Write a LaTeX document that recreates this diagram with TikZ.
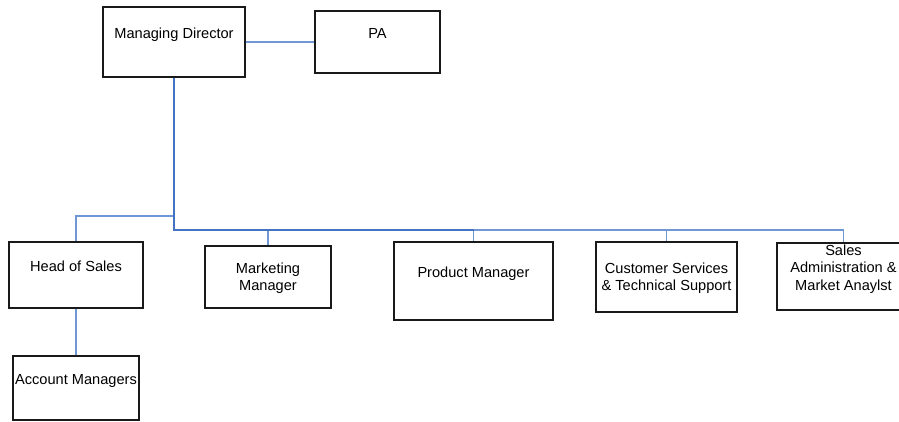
\documentclass[tikz,border=0pt]{standalone}
\usepackage{fontspec}
\setmainfont{Liberation Sans}
\definecolor{trunkblue}{HTML}{4472C4}
\definecolor{linkblue}{HTML}{6F97D6}
\begin{document}
\begin{tikzpicture}[x=1pt,y=-1pt,
  box/.style={draw=black!90,line width=1.3pt,fill=white,inner sep=0pt},
  lbl/.style={font=\fontsize{14.6}{17.5}\selectfont,align=center,inner sep=0pt,anchor=base},
  trunk/.style={draw=trunkblue,line width=2pt},
  link/.style={draw=linkblue,line width=1.4pt}]
\useasboundingbox (0,0) rectangle (899,421);
\clip (0,0) rectangle (899,421);
\fill[white] (0,0) rectangle (899,421);
% boxes
\node[box,minimum width=142pt,minimum height=70pt] (md) at (174,42) {};
\node[box,minimum width=125pt,minimum height=62pt] (pa) at (377.5,42) {};
\node[box,minimum width=134pt,minimum height=66pt] (hos) at (76,275) {};
\node[box,minimum width=126pt,minimum height=64pt] (am) at (76,388) {};
\node[box,minimum width=126pt,minimum height=62pt] (mm) at (268,277) {};
\node[box,minimum width=159pt,minimum height=78pt] (pm) at (473.5,281) {};
\node[box,minimum width=141pt,minimum height=70pt] (cs) at (666.5,277) {};
\node[box,minimum width=133pt,minimum height=67pt] (sa) at (843.5,276.5) {};
% connectors
\coordinate (bus) at (174,230);
\coordinate (hbus) at (174,216);
\draw[link] (md.east) -- (pa.west);
\draw[link] (hbus) -| (hos.north);
\draw[link] (hos.south) -- (am.north);
\draw[link] (pm.north |- bus) -- (sa.north |- bus) -- (sa.north);
\draw[link] (mm.north |- bus) -- (mm.north);
\draw[link] (pm.north |- bus) -- (pm.north);
\draw[link] (cs.north |- bus) -- (cs.north);
\draw[trunk] (md.south) -- (bus) -- (pm.north |- bus);
% labels
\node[lbl] (mdt) at (174,38.3) {Managing Director};
\node[lbl] (pat) at (377.5,38.3) {PA};
\node[lbl] (host) at (76,271) {Head of Sales};
\node[lbl] (amt) at (76,384.3) {Account Managers};
\node[lbl] (mmt) at (268,290.5) {Marketing\\Manager};
\node[lbl] (pmt) at (473.5,277.3) {Product Manager};
\node[lbl] (cst) at (666.5,290.7) {Customer Services\\\& Technical Support};
\node[lbl] (sat) at (843.5,290.3) {Sales\\Administration \&\\Market Anaylst};
\end{tikzpicture}
\end{document}
